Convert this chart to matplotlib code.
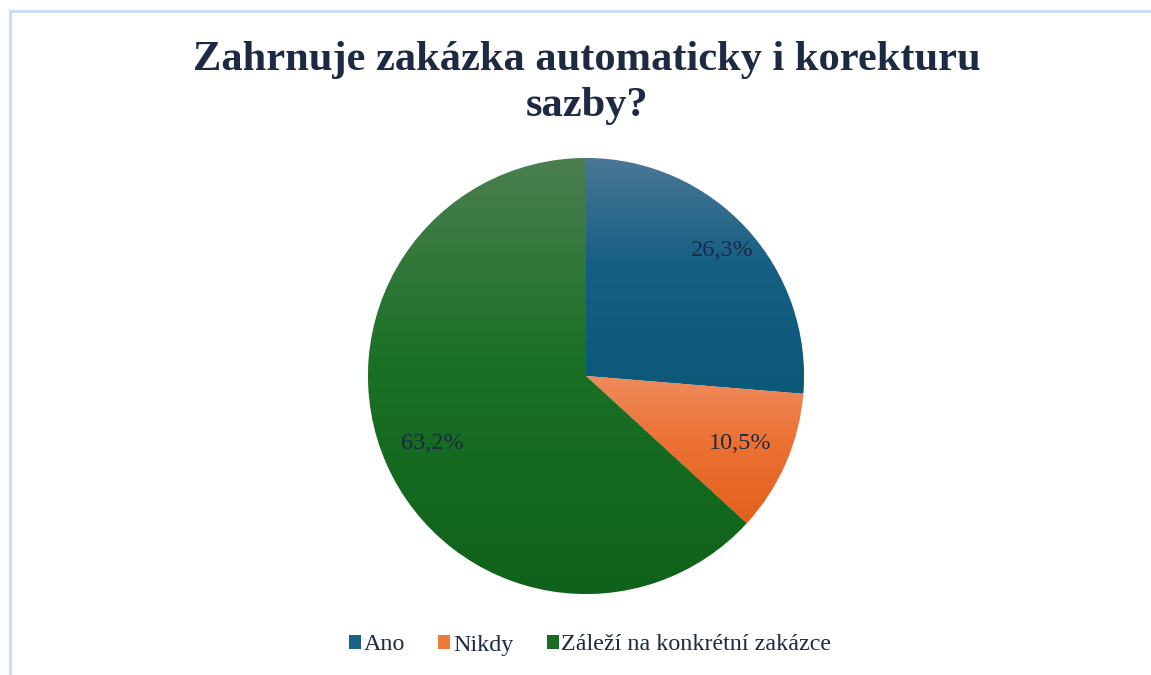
import numpy as np
import matplotlib
matplotlib.use("Agg")
import matplotlib.pyplot as plt
from matplotlib.colors import LinearSegmentedColormap
from matplotlib.patches import Patch
from matplotlib.lines import Line2D

plt.rcParams['font.family'] = ['Liberation Serif', 'DejaVu Serif']

title = "Zahrnuje zakázka automaticky i korekturu\nsazby?"
categories = ["Ano", "Nikdy", "Záleží na konkrétní zakázce"]
values = [26.3, 10.5, 63.2]
labels = ["26,3%", "10,5%", "63,2%"]

# gradient stops (top -> bottom) per slice
grad = [
    ["#4b7795", "#155f84", "#0b5878"],
    ["#ef8b5c", "#ec7234", "#e3601c"],
    ["#4b7f50", "#1b7126", "#0e621a"],
]
legend_colors = ["#1a6087", "#ef7a3c", "#186c22"]
text_color = "#1c2a44"

W, H = 1151, 675
fig = plt.figure(figsize=(W / 100, H / 100), dpi=100)

# light blue border (top and left visible)
fig.add_artist(Line2D([9.5 / W, 9.5 / W], [0, 1 - 10.5 / H], transform=fig.transFigure,
                      color="#c9ddf3", lw=2.2))
fig.add_artist(Line2D([9.5 / W, 1], [1 - 10.5 / H, 1 - 10.5 / H], transform=fig.transFigure,
                      color="#c9ddf3", lw=2.2))

cx, cy, r = 586, 376, 218
ax = fig.add_axes([(cx - r) / W, (H - cy - r) / H, 2 * r / W, 2 * r / H])
ax.set_xlim(-1, 1)
ax.set_ylim(-1, 1)
ax.set_aspect("equal")
ax.axis("off")

wedges, _ = ax.pie(values, startangle=90, counterclock=False, radius=1,
                   colors=[g[1] for g in grad],
                   wedgeprops=dict(edgecolor="white", linewidth=0.6))

for w, g in zip(wedges, grad):
    verts = w.get_path().vertices
    bb_ymin, bb_ymax = verts[:, 1].min(), verts[:, 1].max()
    bb_xmin, bb_xmax = verts[:, 0].min(), verts[:, 0].max()
    cmap = LinearSegmentedColormap.from_list("g", [(0, g[0]), (0.45, g[1]), (1, g[2])])
    arr = np.linspace(1, 0, 256).reshape(-1, 1)  # row 0 at bottom -> dark
    im = ax.imshow(arr, cmap=cmap, extent=[bb_xmin, bb_xmax, bb_ymin, bb_ymax],
                   origin="lower", aspect="auto", zorder=w.get_zorder() + 0.1,
                   interpolation="bilinear", vmin=0, vmax=1)
    im.set_clip_path(w)
ax.set_xlim(-1, 1)
ax.set_ylim(-1, 1)

# labels
label_r = [0.85, 0.77, 0.77]
for w, lab, lr in zip(wedges, labels, label_r):
    mid = np.deg2rad((w.theta1 + w.theta2) / 2)
    ax.text(lr * np.cos(mid), lr * np.sin(mid), lab, ha="center", va="center",
            fontsize=17.5, color=text_color, zorder=10)

fig.text(587 / W, 1 - 83 / H, title, ha="center", va="center", fontsize=30.6,
         fontweight="bold", color=text_color, linespacing=1.25)

handles = [Patch(facecolor=c, edgecolor="none") for c in legend_colors]
fig.legend(handles, categories, loc="center", bbox_to_anchor=(590 / W, 1 - 645 / H),
           ncol=3, frameon=False, fontsize=17.3, handlelength=0.5, handleheight=0.5,
           handletextpad=0.1, columnspacing=1.4, labelcolor=text_color)

fig.savefig("out.png", dpi=100)
